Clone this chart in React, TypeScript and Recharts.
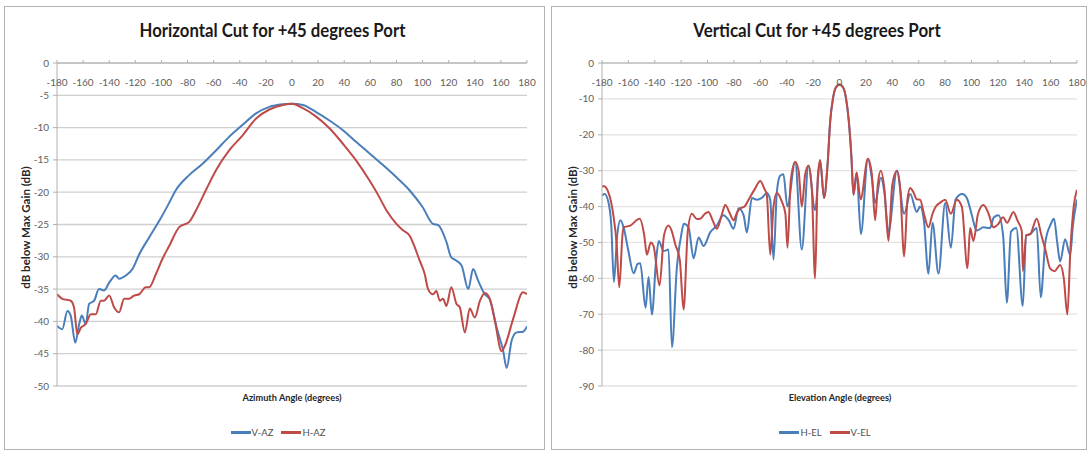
import { LineChart, Line, XAxis, YAxis, CartesianGrid } from "recharts";

// 共通の目盛
const ANGLE_TICKS = [-180, -160, -140, -120, -100, -80, -60, -40, -20, 0, 20, 40, 60, 80, 100, 120, 140, 160, 180];
const AZ_GAIN_TICKS = [0, -5, -10, -15, -20, -25, -30, -35, -40, -45, -50];
const EL_GAIN_TICKS = [0, -10, -20, -30, -40, -50, -60, -70, -80, -90];

// Horizontal cut (azimuth)
const vAzAngle = [-180, -176, -172, -169.5, -166, -163, -161, -158, -155.4, -151.6, -147.8, -143.9, -140, -135, -132.4, -127.3, -122.2, -117, -109.4, -101, -95, -89, -79, -68.5, -58, -48, -38, -27.5, -17.3, -7, 0, 8.3, 18.5, 28.7, 39, 49, 59.4, 69.7, 80, 90, 100, 108, 112, 118.3, 122, 126, 130, 135, 138.7, 142.6, 147.7, 151.5, 156.7, 161.8, 164.4, 168.2, 172, 177, 180];
const vAzGain = [-40.7, -41.2, -38.4, -39.1, -43.3, -40.4, -39.1, -40.4, -37.3, -36.8, -35, -35.2, -34, -32.9, -33.4, -32.9, -31.9, -29.6, -27, -24.2, -22, -19.7, -17.4, -15.6, -13.5, -11.4, -9.6, -7.8, -6.8, -6.4, -6.3, -6.5, -7.6, -8.9, -10.4, -12.2, -14, -15.8, -17.7, -19.7, -22.3, -24.9, -25.1, -27.7, -30.1, -30.6, -31.4, -35, -31.9, -33.7, -35.8, -36.6, -40.9, -44.6, -47.2, -43, -41.7, -41.6, -40.8];

const hAzAngle = [-180, -176, -169.5, -167, -164.4, -161.8, -158, -154, -150.3, -146.5, -144, -140, -136.3, -132.4, -128.6, -124.7, -121, -117, -112, -109.4, -104.3, -99.2, -94, -86.4, -78.7, -73.5, -66, -58.2, -48, -37.8, -27.5, -17.3, -7, 0, 8.3, 18.5, 28.7, 39, 49.2, 59.4, 67, 72.3, 80, 85, 90, 94, 97.8, 101.7, 104.2, 108, 110.6, 113.2, 115.7, 118.3, 122, 126, 128.5, 132.4, 136.2, 140, 144, 147.7, 151.5, 155.4, 160.5, 163, 169.4, 177, 180];
const hAzGain = [-35.8, -36.5, -36.8, -37.8, -42, -41, -40.4, -38.9, -38.9, -36.8, -36.8, -36, -37.8, -38.6, -36.5, -36.5, -36, -35.8, -34.7, -34.7, -32.7, -30.3, -28.3, -25.4, -24.6, -22.8, -19.7, -16.6, -13.5, -11.2, -8.6, -7.2, -6.5, -6.3, -7, -8.3, -10.1, -12.5, -15.1, -18.2, -20.8, -22.8, -24.9, -25.9, -26.7, -28.5, -30.6, -32.7, -35, -35.8, -35.3, -36.8, -36.5, -37.6, -34.7, -37.3, -37.8, -41.7, -38, -39.4, -36.8, -35.6, -36.5, -39.9, -44.6, -43.8, -39.6, -35.5, -35.8];

// Vertical cut (elevation)
const hElAngle = [-180, -178, -175, -173, -171, -168.5, -166, -163.5, -160, -156, -153, -151, -147, -144.7, -142.2, -139, -137, -133.3, -129.6, -127, -123.3, -120, -118, -114.4, -110.6, -106.8, -103, -98, -93, -88, -84, -80.3, -76.5, -72.7, -70.2, -66.4, -62.6, -58.9, -55, -52.5, -50, -47.5, -45, -42.5, -39.5, -33.6, -28.6, -23.5, -18.5, -14.7, -11.7, -9, -7, -5, -3, 0, 3, 5, 7, 9, 10.6, 13, 16.2, 21.5, 24.5, 27, 31.3, 34, 37.1, 43.5, 49, 53.6, 58.6, 61.1, 64, 67.4, 70.5, 75, 80.1, 84.4, 88, 93, 96.5, 100, 104, 109.1, 114, 117, 120.5, 124, 126.8, 130, 134, 138.9, 141.5, 144.5, 149.5, 152.5, 156, 160, 162.6, 165, 167.2, 171, 174.8, 177, 180];
const hElGain = [-37, -36.5, -39, -45, -61, -48, -43.8, -46, -52.4, -58.6, -56, -55.8, -68.2, -59.6, -70.1, -55, -49.6, -52.4, -52, -79.2, -57.2, -48, -44.8, -45.8, -54.4, -48.6, -51, -47.2, -45.3, -42.4, -43.8, -46.2, -40.5, -42.4, -47.2, -37.6, -38.1, -37.6, -36.2, -38.1, -54.8, -36, -31.4, -31, -40, -27.6, -52, -28.6, -41, -27.1, -37.6, -28, -16, -10, -7, -6, -7, -10, -16, -26, -36.7, -30.5, -47.7, -26.7, -32, -39, -32, -36, -47, -30, -42, -36.5, -41.5, -40, -44, -58.7, -44.5, -58.7, -39, -51.5, -38, -36.5, -37.6, -42, -46.7, -45.8, -46, -43, -42.4, -48, -66.8, -47, -46, -67.7, -48, -47.7, -46, -65.3, -50, -45, -43.4, -50, -55.3, -49.1, -53.4, -45, -38];

const vElAngle = [-180, -178.8, -175, -171.2, -169, -166.9, -164.5, -163.7, -158.6, -151.5, -148, -146, -143, -140.9, -136.4, -133, -129.6, -127, -124.5, -121, -118.2, -115, -111.9, -108, -105.6, -102, -99.3, -96, -92.9, -89, -86.6, -83, -80.3, -78, -75.3, -72, -68.9, -64, -60.1, -57, -55.1, -52.5, -50, -47.5, -43.7, -41, -39.4, -37, -33.6, -31, -28.6, -26, -23.5, -21, -18.5, -16.5, -14.7, -11.7, -9, -7, -5, -3, 0, 3, 5, 7, 9, 10.6, 13, 16, 21.5, 24.5, 27, 29, 31.3, 34, 37.1, 40, 43.5, 46, 49, 51.5, 53.6, 56, 58.6, 61.1, 64, 67.4, 70.5, 73, 76, 80.1, 84.4, 88.9, 92.7, 97, 99, 101.5, 105, 109.1, 113, 116.7, 120, 124, 127, 131.8, 135, 138.1, 139, 141.5, 144.5, 149.5, 153, 156, 159.6, 163, 167.2, 170, 172.7, 175, 177.5, 180];
const vElGain = [-34.5, -34.3, -36.2, -42.9, -50, -62.5, -48, -45.8, -45.3, -43.4, -48, -53.4, -50, -51, -62, -48, -45.3, -47, -50.5, -55, -68.7, -47, -42, -43.5, -43.4, -42, -41.5, -44, -46.2, -42, -39.6, -42, -43.8, -42, -40.5, -40, -38.1, -35, -32.9, -35, -36.7, -53.4, -40, -36.2, -38.6, -42, -51.5, -33, -27.6, -30, -40, -31, -28.6, -35, -60, -32, -27.1, -37.6, -28, -16, -10, -7, -6, -7, -10, -16, -26, -36.7, -30.5, -38, -26.7, -31, -43.8, -34, -30, -35, -49.6, -34, -30, -35, -53.9, -38, -34.8, -36, -38, -38.1, -42, -45.8, -42, -40, -39, -38.1, -42, -38.1, -40, -57.2, -46, -49.6, -42, -39.6, -42, -45.8, -45, -43, -44.5, -41.5, -44, -46.7, -58, -48, -47.7, -43.4, -48, -52, -57.2, -58, -56.3, -60, -70.1, -52, -40, -35.3];

const BLUE = "#4a7ebb";
const RED = "#be4b48";
const FONT = "Lato, 'Open Sans', sans-serif";
const PLOT_TOP = 63;

const zip = (a: number[], g: number[]) => a.map((x, i) => ({ x, y: g[i] }));

type Series = { name: string; color: string; angle: number[]; gain: number[] };

// x軸の目盛ラベルは軸線の下側に描く
function AngleTick(p: any) {
  return (
    <text x={p.x} y={PLOT_TOP + 23} textAnchor="middle" fontSize={10} fill="#606060" fontFamily={FONT}>
      {p.payload.value}
    </text>
  );
}

function Panel(props: {
  left: number;
  width: number;
  title: string;
  titleScale: number;
  xLabel: string;
  yTicks: number[];
  series: Series[];
  margin: { left: number; right: number };
  grid: string;
}) {
  const { left, width, title, titleScale, xLabel, yTicks, series, margin, grid } = props;
  const plotMid = margin.left + 20 + (width - margin.left - 20 - margin.right) / 2;
  return (
    <div style={{ position: "absolute", left, top: 0, width, height: 453 }}>
      <div style={{ position: "absolute", left: 4, top: 6, right: 0, bottom: 3, border: "1px solid #b4b4b4" }} />
      <div
        style={{
          position: "absolute", left: 0, width, top: 18, textAlign: "center",
          fontFamily: FONT, fontWeight: 700, fontSize: 19, color: "#1a1a1a",
          transform: `scaleX(${titleScale})`, whiteSpace: "nowrap",
        }}
      >
        {title}
      </div>
      <LineChart
        width={width}
        height={453}
        margin={{ top: PLOT_TOP - 20, right: margin.right, bottom: 67, left: margin.left }}
        style={{ position: "absolute", left: 0, top: 0 }}
      >
        <CartesianGrid horizontal vertical={false} stroke={grid} strokeWidth={1.3} />
        <XAxis
          type="number"
          dataKey="x"
          orientation="top"
          height={20}
          domain={[-180, 180]}
          ticks={ANGLE_TICKS}
          interval={0}
          allowDataOverflow
          stroke="#b0b0b0"
          tickSize={3}
          tickMargin={0}
          tick={AngleTick}
        />
        <YAxis
          type="number"
          dataKey="y"
          width={20}
          domain={[yTicks[yTicks.length - 1], 0]}
          ticks={yTicks}
          interval={0}
          allowDataOverflow
          stroke="#b0b0b0"
          tickSize={4}
          tickMargin={4}
          tick={{ fontSize: 10, fill: "#606060", fontFamily: FONT }}
        />
        {series.map((s) => (
          <Line
            key={s.name}
            data={zip(s.angle, s.gain)}
            dataKey="y"
            name={s.name}
            type="monotone"
            stroke={s.color}
            strokeWidth={2}
            dot={false}
            isAnimationActive={false}
          />
        ))}
      </LineChart>
      <div style={{ position: "absolute", left: 25, top: 228, width: 0, height: 0 }}>
        <div
          style={{
            position: "absolute", left: -90, top: -7, width: 180, textAlign: "center",
            transform: "rotate(-90deg)", fontFamily: FONT, fontWeight: 700, fontSize: 11.5, color: "#262626",
            whiteSpace: "nowrap",
          }}
        >
          dB below Max Gain (dB)
        </div>
      </div>
      <div
        style={{
          position: "absolute", left: plotMid - 100, width: 200, top: 391, textAlign: "center",
          fontFamily: FONT, fontWeight: 700, fontSize: 10, color: "#262626",
          transform: "scaleX(0.92)",
        }}
      >
        {xLabel}
      </div>
      <div
        style={{
          position: "absolute", left: 178, width: 200, top: 427, display: "flex",
          justifyContent: "center", gap: 8, fontFamily: FONT, fontSize: 9.5, color: "#505050",
        }}
      >
        {series.map((s) => (
          <span key={s.name} style={{ display: "flex", alignItems: "center" }}>
            <span style={{ display: "inline-block", width: 20, height: 2.5, background: s.color, marginRight: 1 }} />
            {s.name}
          </span>
        ))}
      </div>
    </div>
  );
}

export default function App() {
  return (
    <div style={{ position: "absolute", left: 0, top: 0, width: 1088, height: 453, background: "#fff", overflow: "hidden" }}>
      <Panel
        left={0}
        width={545}
        title="Horizontal Cut for +45 degrees Port"
        titleScale={0.88}
        xLabel="Azimuth Angle (degrees)"
        yTicks={AZ_GAIN_TICKS}
        margin={{ left: 37, right: 18 }}
        grid="#cfcfcf"
        series={[
          { name: "V-AZ", color: BLUE, angle: vAzAngle, gain: vAzGain },
          { name: "H-AZ", color: RED, angle: hAzAngle, gain: hAzGain },
        ]}
      />
      <Panel
        left={547}
        width={540}
        title="Vertical Cut for +45 degrees Port"
        titleScale={0.89}
        xLabel="Elevation Angle (degrees)"
        yTicks={EL_GAIN_TICKS}
        margin={{ left: 35, right: 10 }}
        grid="#e2e2e2"
        series={[
          { name: "H-EL", color: BLUE, angle: hElAngle, gain: hElGain },
          { name: "V-EL", color: RED, angle: vElAngle, gain: vElGain },
        ]}
      />
    </div>
  );
}
